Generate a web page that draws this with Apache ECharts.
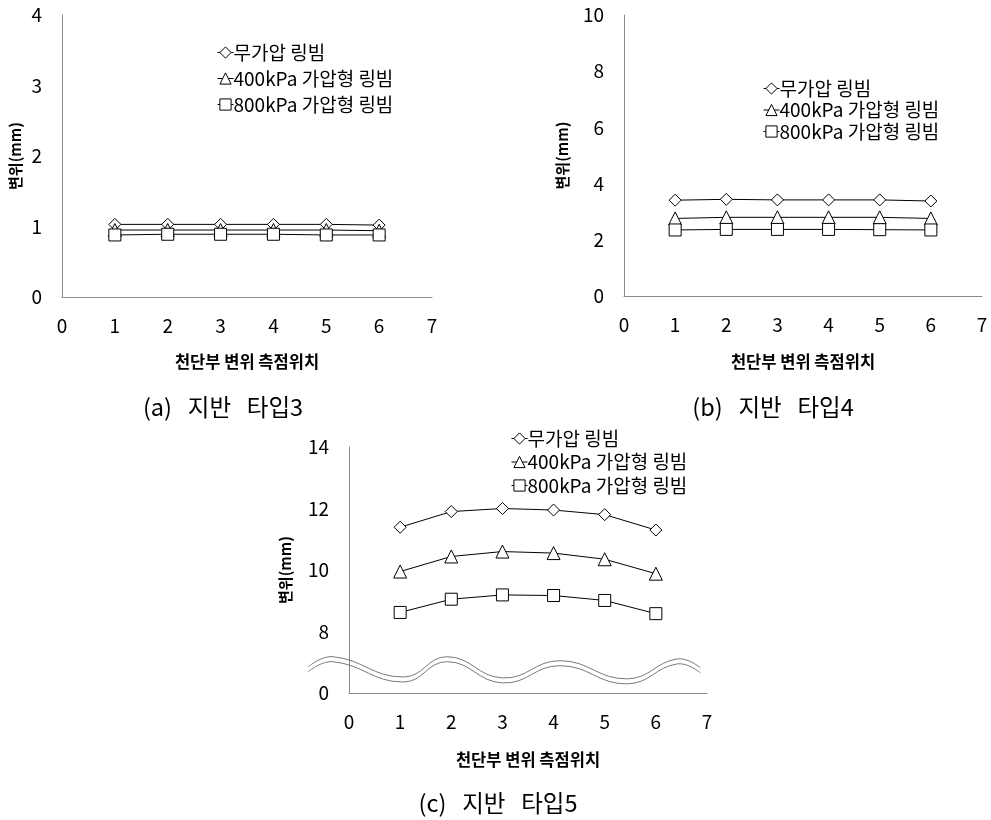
<!DOCTYPE html>
<html>
<head>
<meta charset="utf-8">
<title>천단부 변위 측점위치별 변위</title>
<script src="https://cdn.jsdelivr.net/npm/echarts@6/dist/echarts.min.js"></script>
<style>
  html, body { margin: 0; padding: 0; background: #fff; }
  #chart { width: 991px; height: 820px; }
</style>
</head>
<body>
<div id="chart"></div>
<script>
// Measurement positions along the crown (천단부 변위 측점위치)
const positions = [1, 2, 3, 4, 5, 6];

const seriesNames = ['무가압 링빔', '400kPa 가압형 링빔', '800kPa 가압형 링빔'];
const seriesSymbols = ['diamond', 'triangle', 'rect'];

// (a) 지반 타입3 — displacement (mm)
const type3NoPressure = [1.03, 1.03, 1.03, 1.03, 1.03, 1.02];
const type3Press400 = [0.95, 0.95, 0.95, 0.95, 0.95, 0.94];
const type3Press800 = [0.88, 0.89, 0.89, 0.89, 0.88, 0.88];

// (b) 지반 타입4 — displacement (mm)
const type4NoPressure = [3.41, 3.44, 3.42, 3.42, 3.42, 3.38];
const type4Press400 = [2.76, 2.80, 2.80, 2.80, 2.80, 2.76];
const type4Press800 = [2.35, 2.37, 2.37, 2.37, 2.36, 2.35];

// (c) 지반 타입5 — displacement (mm)
const type5NoPressure = [11.39, 11.90, 12.00, 11.95, 11.80, 11.30];
const type5Press400 = [9.95, 10.44, 10.60, 10.55, 10.35, 9.88];
const type5Press800 = [8.62, 9.05, 9.19, 9.17, 9.01, 8.58];

// Tick labels
const xTicks = [0, 1, 2, 3, 4, 5, 6, 7];
const yTicksA = [0, 1, 2, 3, 4];
const yTicksB = [0, 2, 4, 6, 8, 10];
const yTicksC = ['0', '8', '10', '12', '14']; // lowest tick sits below the axis break

const captions = ['(a)   지반   타입3', '(b)   지반   타입4', '(c)   지반   타입5'];
const xTitle = '천단부 변위 측점위치';
const yTitle = '변위(mm)';

// Axis-break wave for panel (c), in that panel's data units
const breakWaveX = [-0.80, -0.31, 1.06, 1.92, 3.01, 4.13, 5.44, 6.42, 6.87];
const breakWaveY = [6.85, 7.18, 6.52, 7.18, 6.49, 7.05, 6.46, 7.11, 6.82];

const FONT = '"Noto Sans CJK KR", "Noto Sans", sans-serif';
const AXIS_GRAY = '#8a8a8a';

const chart = echarts.init(document.getElementById('chart'), null, { renderer: 'canvas' });

function makeX(gridIndex, nameGap) {
  return {
    type: 'value', gridIndex, min: 0, max: 7, interval: 1,
    name: xTitle, nameLocation: 'middle', nameGap,
    nameTextStyle: { fontFamily: FONT, fontSize: 16.5, fontWeight: 'bold', color: '#000' },
    axisLine: { show: true, onZero: false, lineStyle: { color: AXIS_GRAY, width: 1 } },
    axisTick: { show: false },
    splitLine: { show: false },
    axisLabel: {
      margin: 19, fontFamily: FONT, fontSize: 19, color: '#000',
      formatter: v => (xTicks.includes(v) ? String(v) : '')
    }
  };
}

function makeY(gridIndex, min, max, interval, nameGap, formatter) {
  return {
    type: 'value', gridIndex, min, max, interval,
    name: yTitle, nameLocation: 'middle', nameGap,
    nameTextStyle: { fontFamily: FONT, fontSize: 15, fontWeight: 'bold', color: '#000' },
    axisLine: { show: true, onZero: false, lineStyle: { color: AXIS_GRAY, width: 1 } },
    axisTick: { show: false },
    splitLine: { show: false },
    axisLabel: { margin: 20, fontFamily: FONT, fontSize: 19, color: '#000', formatter }
  };
}

function makeSeries(gridIndex, datasets) {
  return datasets.map((vals, i) => ({
    name: seriesNames[i],
    type: 'line',
    xAxisIndex: gridIndex,
    yAxisIndex: gridIndex,
    data: positions.map((p, k) => [p, vals[k]]),
    symbol: seriesSymbols[i],
    symbolSize: i === 1 ? 13 : 12,
    showAllSymbol: true,
    z: 3 + i,
    lineStyle: { color: '#000', width: 1 },
    itemStyle: { color: '#fff', borderColor: '#000', borderWidth: 1 },
    emphasis: { disabled: true },
    animation: false
  }));
}

function makeLegend(left, top, pitch) {
  return {
    orient: 'vertical', left, top,
    itemWidth: 16, itemHeight: 14, itemGap: pitch - 19,
    data: seriesNames,
    textStyle: { fontFamily: FONT, fontSize: 19, lineHeight: 19, color: '#000', padding: [0, 0, 0, -5] },
    itemStyle: { color: '#fff', borderColor: '#000', borderWidth: 1 },
    lineStyle: { color: '#000', width: 1 },
    selectedMode: false
  };
}

const captionStyle = { fontFamily: FONT, fontSize: 23.5, fontWeight: 'normal', color: '#000' };

const option = {
  backgroundColor: '#fff',
  animation: false,
  title: [
    { text: captions[0], left: 218, top: 390, textAlign: 'center', textStyle: captionStyle },
    { text: captions[1], left: 768, top: 390, textAlign: 'center', textStyle: captionStyle },
    { text: captions[2], left: 493, top: 786, textAlign: 'center', textStyle: captionStyle }
  ],
  legend: [
    makeLegend(212, 38, 26),
    makeLegend(758, 74, 21.5),
    makeLegend(506, 424, 23.5)
  ],
  grid: [
    { left: 62, top: 15, width: 370, height: 282 },
    { left: 624, top: 15, width: 358, height: 281 },
    { left: 349, top: 447, width: 358, height: 246 }
  ],
  xAxis: [makeX(0, 56), makeX(1, 57), makeX(2, 58)],
  yAxis: [
    makeY(0, 0, 4, 1, 39, v => (yTicksA.includes(v) ? String(v) : '')),
    makeY(1, 0, 10, 2, 54, v => (yTicksB.includes(v) ? String(v) : '')),
    makeY(2, 6, 14, 2, 56, v => yTicksC[(v - 6) / 2])
  ],
  series: [
    ...makeSeries(0, [type3NoPressure, type3Press400, type3Press800]),
    ...makeSeries(1, [type4NoPressure, type4Press400, type4Press800]),
    ...makeSeries(2, [type5NoPressure, type5Press400, type5Press800])
  ]
};

chart.setOption(option);

// Double wavy line marking the broken y-axis of panel (c)
const wavePts = breakWaveX.map((x, i) =>
  chart.convertToPixel({ xAxisIndex: 2, yAxisIndex: 2 }, [x, breakWaveY[i]]));
const waveStyle = { stroke: '#7a7a7a', lineWidth: 1, fill: null };
chart.setOption({
  graphic: [
    { type: 'polyline', silent: true, z: 10,
      shape: { points: wavePts, smooth: 0.45 }, style: waveStyle },
    { type: 'polyline', silent: true, z: 10,
      shape: { points: wavePts.map(p => [p[0], p[1] + 5]), smooth: 0.45 }, style: waveStyle }
  ]
});
</script>
</body>
</html>
